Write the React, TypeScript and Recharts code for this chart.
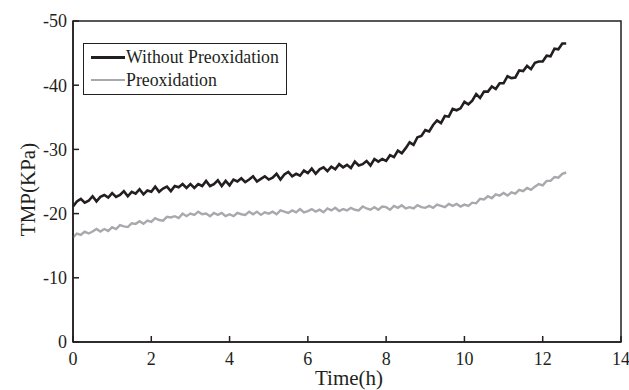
import { LineChart, Line, XAxis, YAxis, ReferenceArea } from 'recharts';

// TMP readings sampled every 0.1 h from 0 to 12.6 h
const SAMPLE_STEP = 0.1;

const withoutPreoxidation = [
  -21.1, -21.9, -22.3, -21.7, -22.0, -22.7, -21.9, -22.6, -22.9, -22.5,
  -23.2, -22.6, -22.9, -23.5, -22.7, -23.4, -23.1, -23.8, -23.0, -23.6,
  -23.4, -24.2, -23.4, -23.9, -24.2, -23.5, -24.3, -24.1, -24.6, -24.0,
  -24.6, -24.0, -24.6, -24.3, -25.1, -24.3, -24.6, -25.2, -24.3, -25.1,
  -24.4, -25.3, -25.0, -25.5, -24.9, -25.3, -25.8, -25.0, -25.4, -25.8,
  -25.3, -25.6, -26.2, -25.3, -26.1, -26.5, -25.8, -26.2, -25.9, -26.7,
  -26.3, -27.0, -26.2, -26.9, -27.2, -26.6, -27.3, -26.9, -27.7, -27.2,
  -27.6, -27.1, -28.1, -27.5, -27.7, -28.2, -27.5, -28.5, -28.1, -28.5,
  -28.2, -29.1, -28.8, -29.8, -29.4, -30.2, -31.1, -30.7, -31.9, -32.1,
  -33.0, -32.8, -33.8, -34.5, -34.1, -35.2, -35.1, -36.3, -36.1, -36.4,
  -37.4, -37.0, -37.6, -38.6, -38.0, -39.0, -39.0, -39.8, -39.4, -40.3,
  -40.3, -41.4, -41.1, -41.2, -42.3, -42.2, -43.0, -42.5, -43.5, -43.7,
  -43.7, -44.6, -44.5, -45.7, -45.6, -46.5, -46.5,
];

const preoxidation = [
  -16.3, -16.9, -16.7, -17.2, -16.9, -17.2, -17.6, -17.2, -17.6, -17.3,
  -17.9, -17.6, -18.2, -18.0, -17.9, -18.5, -18.4, -18.8, -18.4, -18.9,
  -18.7, -19.3, -19.0, -18.9, -19.5, -19.4, -19.6, -19.3, -20.0, -19.6,
  -20.0, -19.8, -20.3, -19.9, -20.0, -19.6, -20.1, -19.8, -20.1, -19.6,
  -19.9, -19.6, -20.1, -19.9, -19.8, -20.3, -19.9, -20.3, -19.8, -20.2,
  -20.0, -20.3, -19.9, -20.5, -20.3, -20.1, -20.5, -20.2, -20.7, -20.2,
  -20.4, -20.7, -20.3, -20.6, -20.2, -20.8, -20.5, -20.9, -20.4, -20.7,
  -20.5, -20.9, -20.6, -20.5, -21.1, -20.8, -20.6, -21.0, -20.6, -21.1,
  -21.0, -20.6, -21.2, -20.9, -21.3, -20.8, -21.0, -20.8, -21.3, -21.0,
  -20.9, -21.2, -20.9, -21.4, -21.2, -21.0, -21.5, -21.2, -21.5, -21.1,
  -21.4, -21.2, -21.7, -21.6, -22.3, -22.2, -22.7, -22.4, -23.0, -22.8,
  -23.2, -22.8, -23.3, -23.1, -23.7, -23.5, -24.0, -23.7, -24.2, -24.6,
  -24.4, -25.1, -25.1, -25.7, -25.6, -26.2, -26.4,
];

const xTicks = [0, 2, 4, 6, 8, 10, 12, 14];
const yTicks = [0, -10, -20, -30, -40, -50];

const series = [
  { key: 'without', name: 'Without Preoxidation', color: '#231f20', width: 2.6 },
  { key: 'pre', name: 'Preoxidation', color: '#a7a9ac', width: 2.4 },
];

const data = withoutPreoxidation.map((v, i) => ({
  t: Math.round(i * SAMPLE_STEP * 10) / 10,
  without: v,
  pre: preoxidation[i],
}));

const FONT = '"Liberation Serif", "Times New Roman", serif';
const INK = '#231f20';

function YTick({ x, y, payload }: any) {
  return (
    <g>
      <line x1={x + 6} x2={x + 12} y1={y} y2={y} stroke={INK} strokeWidth={1.5} />
      <text x={x} y={y} dy="0.35em" textAnchor="end" fontFamily={FONT} fontSize={18} fill={INK}>
        {payload.value}
      </text>
    </g>
  );
}

function XTick({ x, y, payload }: any) {
  return (
    <g>
      <line x1={x} x2={x} y1={y} y2={y - 6} stroke={INK} strokeWidth={1.5} />
      <text x={x} y={y + 23} textAnchor="middle" fontFamily={FONT} fontSize={18} fill={INK}>
        {payload.value}
      </text>
    </g>
  );
}

function LegendBox() {
  return (
    <div style={{ position: 'absolute', left: 83, top: 43, border: `1.5px solid ${INK}`, padding: '2px 7px 3px 7px', fontFamily: FONT, fontSize: 17.8, color: INK, background: '#fff', lineHeight: '22.5px' }}>
      {series.map((s) => (
        <div key={s.key} style={{ display: 'flex', alignItems: 'center' }}>
          <span style={{ display: 'inline-block', width: 34, height: 2.5, background: s.color, marginRight: 1 }} />
          {s.name}
        </div>
      ))}
    </div>
  );
}

export default function App() {
  return (
    <div style={{ position: 'absolute', left: 0, top: 0, width: 629, height: 390, background: '#fff' }}>
      <LineChart width={629} height={390} data={data} margin={{ top: 21, right: 8, left: 0, bottom: 0 }}>
        <XAxis
          dataKey="t"
          type="number"
          domain={[0, 14]}
          ticks={xTicks}
          height={48}
          tickSize={0}
          tickMargin={0}
          tick={<XTick />}
          stroke={INK}
          strokeWidth={1.5}
          label={{
            content: ({ viewBox }: any) => (
              <text x={viewBox.x + viewBox.width / 2 + 2} y={viewBox.y + 43} textAnchor="middle" fontFamily={FONT} fontSize={21} fill={INK}>
                Time(h)
              </text>
            ),
          }}
        />
        <YAxis
          type="number"
          domain={[-50, 0]}
          reversed
          ticks={yTicks}
          width={73}
          tickSize={0}
          tickMargin={6}
          tick={<YTick />}
          stroke={INK}
          strokeWidth={1.5}
          label={{
            content: ({ viewBox }: any) => {
              const cx = viewBox.x + 30;
              const cy = viewBox.y + viewBox.height / 2 + 8;
              return (
                <text x={cx} y={cy} transform={`rotate(-90 ${cx} ${cy})`} textAnchor="middle" dominantBaseline="middle" fontFamily={FONT} fontSize={21} fill={INK}>
                  TMP(KPa)
                </text>
              );
            },
          }}
        />
        <ReferenceArea x1={0} x2={14} y1={0} y2={-50} fill="none" stroke={INK} strokeWidth={1.5} ifOverflow="visible" />
        {series.map((s) => (
          <Line
            key={s.key}
            dataKey={s.key}
            name={s.name}
            stroke={s.color}
            strokeWidth={s.width}
            dot={false}
            type="linear"
            isAnimationActive={false}
          />
        ))}
      </LineChart>
      <LegendBox />
    </div>
  );
}
